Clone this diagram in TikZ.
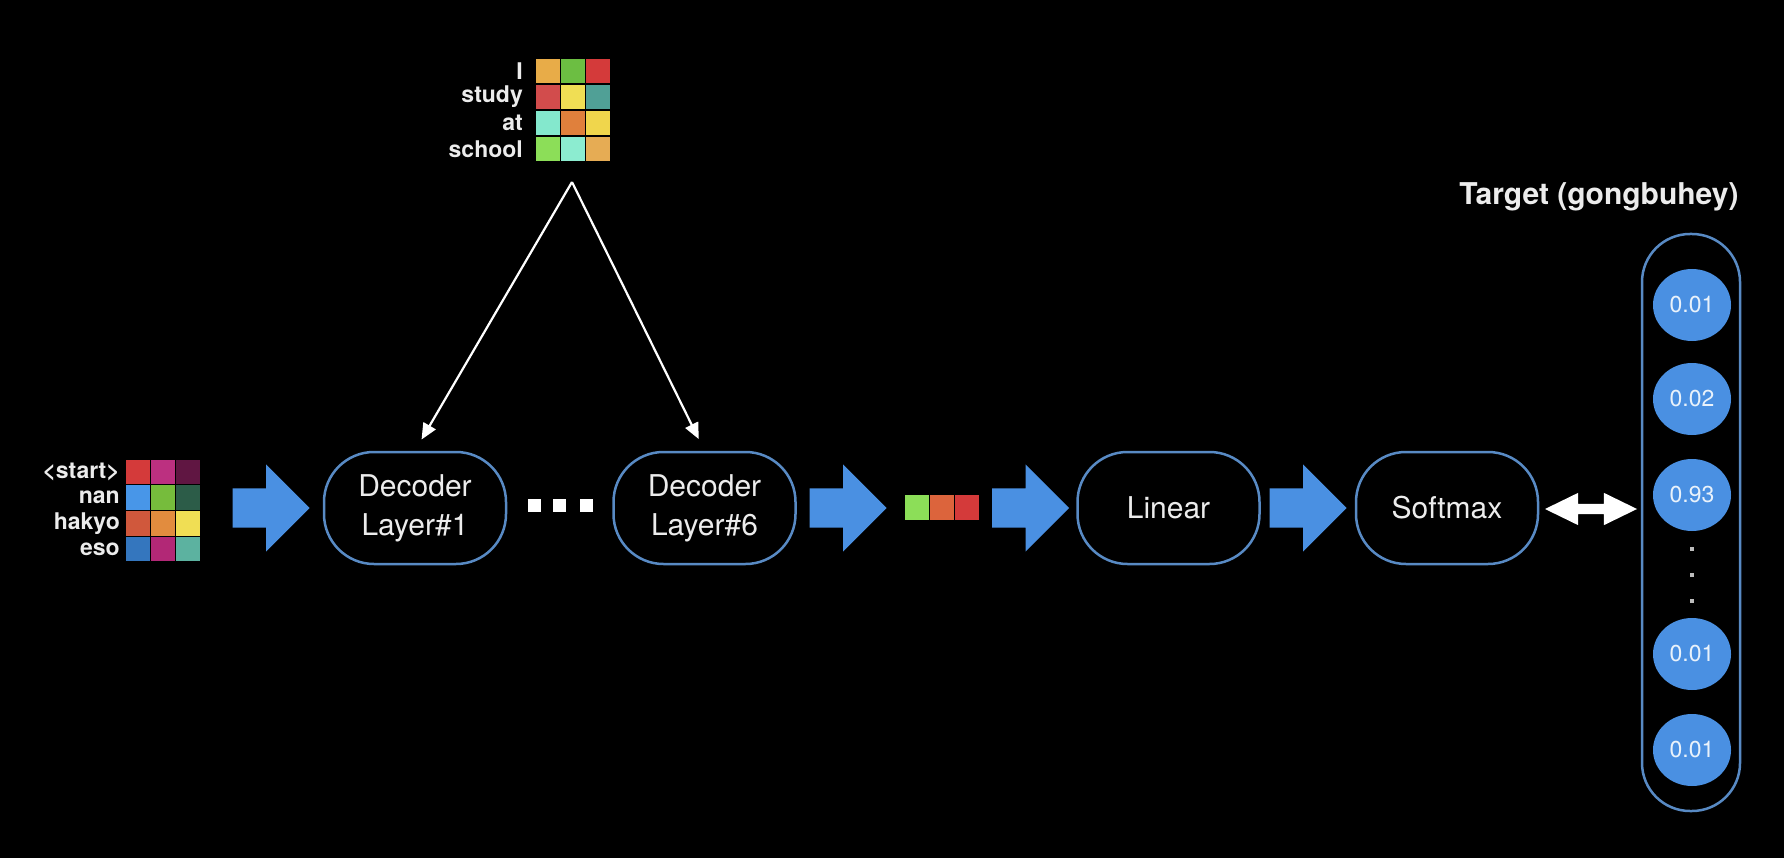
\documentclass[tikz,border=0pt]{standalone}
\usepackage{fontspec}
\setmainfont{TeX Gyre Heros}
\usetikzlibrary{arrows.meta, positioning, shapes.geometric, shapes.arrows}

\definecolor{keyblue}{RGB}{74,144,226}
\definecolor{edgeblue}{RGB}{88,138,196}
\definecolor{txtgray}{RGB}{236,236,236}
% cell colours
\definecolor{mamber}{RGB}{232,172,72}
\definecolor{mgrass}{RGB}{108,190,66}
\definecolor{mred}{RGB}{212,58,58}
\definecolor{mcoral}{RGB}{210,76,76}
\definecolor{myellow}{RGB}{240,222,84}
\definecolor{mteal}{RGB}{80,160,150}
\definecolor{maqua}{RGB}{132,232,205}
\definecolor{morange}{RGB}{224,128,60}
\definecolor{mgold}{RGB}{240,214,76}
\definecolor{mlime}{RGB}{140,222,88}
\definecolor{mmint}{RGB}{140,236,208}
\definecolor{msand}{RGB}{230,172,84}
\definecolor{mmag}{RGB}{188,48,128}
\definecolor{mplum}{RGB}{96,22,66}
\definecolor{mblue}{RGB}{72,150,232}
\definecolor{mgreen}{RGB}{118,188,60}
\definecolor{mforest}{RGB}{44,92,72}
\definecolor{mrust}{RGB}{208,88,60}
\definecolor{mtangerine}{RGB}{226,140,62}
\definecolor{msteel}{RGB}{52,118,190}
\definecolor{mpink}{RGB}{178,40,118}
\definecolor{mseafoam}{RGB}{92,178,160}
\definecolor{mbrick}{RGB}{220,100,60}

\begin{document}
\begin{tikzpicture}[x=1pt, y=-1pt,
    layerbox/.style={draw=edgeblue, line width=2.5pt, rounded corners=50pt, minimum width=182pt, minimum height=112pt, align=center, text=txtgray, font=\fontsize{30}{39}\selectfont},
    blockarr/.style={single arrow, anchor=tip, fill=keyblue, text height=39pt, text depth=0pt, minimum height=77pt, single arrow head extend=24pt, single arrow tip angle=90, inner sep=0pt},
    dblarr/.style={double arrow, fill=white, text height=10pt, text depth=0pt, minimum height=92pt, double arrow head extend=11pt, double arrow tip angle=52, inner sep=0pt},
    cell/.style={minimum width=24pt, minimum height=24.5pt, inner sep=0pt},
    wordlbl/.style={anchor=east, text=txtgray, inner sep=0pt, font=\fontsize{23}{23}\selectfont\bfseries},
    dotsq/.style={fill=white, minimum size=13pt, inner sep=0pt},
    vdot/.style={fill=txtgray!80!black, minimum size=4pt, inner sep=0pt},
    colbox/.style={draw=edgeblue, line width=2.5pt, rounded corners=48pt, minimum width=98pt, minimum height=577pt},
    prob/.style={ellipse, fill=keyblue, minimum width=78pt, minimum height=72pt, inner sep=0pt, text=white!88!keyblue, font=\fontsize{23}{23}\selectfont},
    warr/.style={-{Triangle[length=16pt, width=14pt]}, white, line width=2.2pt}
]
\useasboundingbox (0,0) rectangle (1784,858);
\fill[black] (0,0) rectangle (1784,858);

% encoder output words
\foreach \w/\ca/\cb/\cc [count=\r] in {I/mamber/mgrass/mred, study/mcoral/myellow/mteal, at/maqua/morange/mgold, school/mlime/mmint/msand} {
    \node[wordlbl] (enc-\r) at (523,45+26*\r) {\w};
    \foreach \c [count=\k] in {\ca,\cb,\cc}
        \node[cell, fill=\c] (enc-\r-\k) at (522.4+25.3*\k,45+26*\r) {};
}

% decoder input words
\foreach \w/\ca/\cb/\cc [count=\r] in {<start>/mred/mmag/mplum, nan/mblue/mgreen/mforest, hakyo/mrust/mtangerine/myellow, eso/msteel/mpink/mseafoam} {
    \node[wordlbl] (dec-\r) at (120,446.3+25.7*\r) {\w};
    \foreach \c [count=\k] in {\ca,\cb,\cc}
        \node[cell, fill=\c] (dec-\r-\k) at (112.4+25.3*\k,446.3+25.7*\r) {};
}

\node[blockarr] (a1) at (310,508) {};
\node[layerbox] (dec1) at (415,508) {Decoder\\Layer\#1};
\foreach \x [count=\i] in {534,559.5,586}
    \node[dotsq] (gap-\i) at (\x,505) {};
\node[layerbox] (dec6) at (704.5,508) {Decoder\\Layer\#6};
\node[blockarr] (a2) at (887,508) {};

% decoder output vector
\foreach \c [count=\k] in {mlime,mbrick,mred}
    \node[cell, fill=\c] (out-\k) at (891.5+25*\k,507.5) {};

\node[blockarr] (a3) at (1069.5,508) {};
\node[layerbox] (lin) at (1168.5,508) {Linear};
\node[blockarr] (a4) at (1347,508) {};
\node[layerbox] (soft) at (1447,508) {Softmax};
\node[dblarr] (cmp) at (1591,509) {};

% target distribution
\node[colbox] (tgt) at (1691,522.5) {};
\node[text=txtgray, font=\fontsize{30}{30}\selectfont\bfseries] (tgtlbl) at (1599,197) {Target (gongbuhey)};
\foreach \p/\y [count=\i] in {0.01/305, 0.02/399, 0.93/495, 0.01/654, 0.01/750}
    \node[prob] (p-\i) at (1692,\y) {\p};
\foreach \y [count=\i] in {549,575,601}
    \node[vdot] (vd-\i) at (1692,\y) {};

% encoder output into both layers
\coordinate (apex) at (572,182);
\draw[warr, shorten >=13pt] (apex) -- (dec1.north);
\draw[warr, shorten >=13pt] (apex) -- (dec6.north);
\end{tikzpicture}
\end{document}
